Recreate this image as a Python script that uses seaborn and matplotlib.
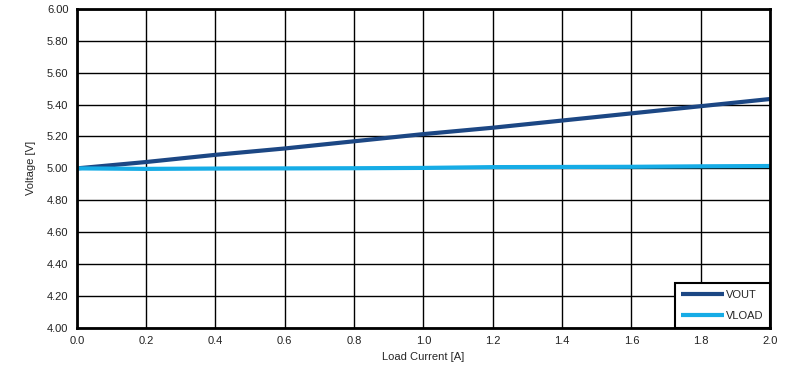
import matplotlib
matplotlib.use("Agg")
import matplotlib.pyplot as plt
import pandas as pd
import seaborn as sns

# load current [A]
current = [0.0, 0.2, 0.4, 0.6, 0.8, 1.0, 1.2, 1.4, 1.6, 1.8, 2.0]
# voltages [V]
vout = [5.00, 5.04, 5.085, 5.125, 5.17, 5.215, 5.255, 5.30, 5.345, 5.39, 5.435]
vload = [5.00, 4.997, 4.999, 5.0, 5.001, 5.003, 5.008, 5.009, 5.010, 5.013, 5.015]

df = pd.concat([
    pd.DataFrame({"current": current, "voltage": vout, "series": "VOUT"}),
    pd.DataFrame({"current": current, "voltage": vload, "series": "VLOAD"}),
], ignore_index=True)

sns.set_style("white")
plt.rcParams["font.family"] = ["Liberation Sans", "DejaVu Sans"]

fig, ax = plt.subplots(figsize=(8, 3.88), dpi=100)
fig.subplots_adjust(left=0.096, right=0.9625, top=0.977, bottom=0.155)

sns.lineplot(
    data=df,
    x="current",
    y="voltage",
    hue="series",
    palette={"VOUT": "#1C4784", "VLOAD": "#16ACE6"},
    linewidth=3,
    solid_capstyle="butt",
    ax=ax,
)

ax.set_xlim(0, 2.0)
ax.set_ylim(4.0, 6.0)
ax.set_xticks([i * 0.2 for i in range(11)])
ax.set_xticklabels([f"{i * 0.2:.1f}" for i in range(11)])
ax.set_yticks([4.0 + i * 0.2 for i in range(11)])
ax.set_yticklabels([f"{4.0 + i * 0.2:.2f}" for i in range(11)])
ax.tick_params(axis="both", labelsize=8, length=0, pad=6, colors="#222222")

ax.grid(True, color="black", linewidth=1)
ax.set_axisbelow(True)
for side in ax.spines.values():
    side.set_visible(True)
    side.set_color("black")
    side.set_linewidth(2)

ax.set_xlabel("Load Current [A]", fontsize=8, labelpad=4)
ax.set_ylabel("Voltage [V]", fontsize=8, labelpad=8)

leg = ax.legend(
    title=None,
    loc="lower right",
    fontsize=8,
    frameon=True,
    fancybox=False,
    borderaxespad=0,
    handlelength=3.8,
    handletextpad=0.2,
    labelspacing=1.0,
    borderpad=0.6,
)
leg.get_frame().set_edgecolor("black")
leg.get_frame().set_linewidth(1.5)
leg.get_frame().set_alpha(1)

fig.savefig("out.png", dpi=100)
